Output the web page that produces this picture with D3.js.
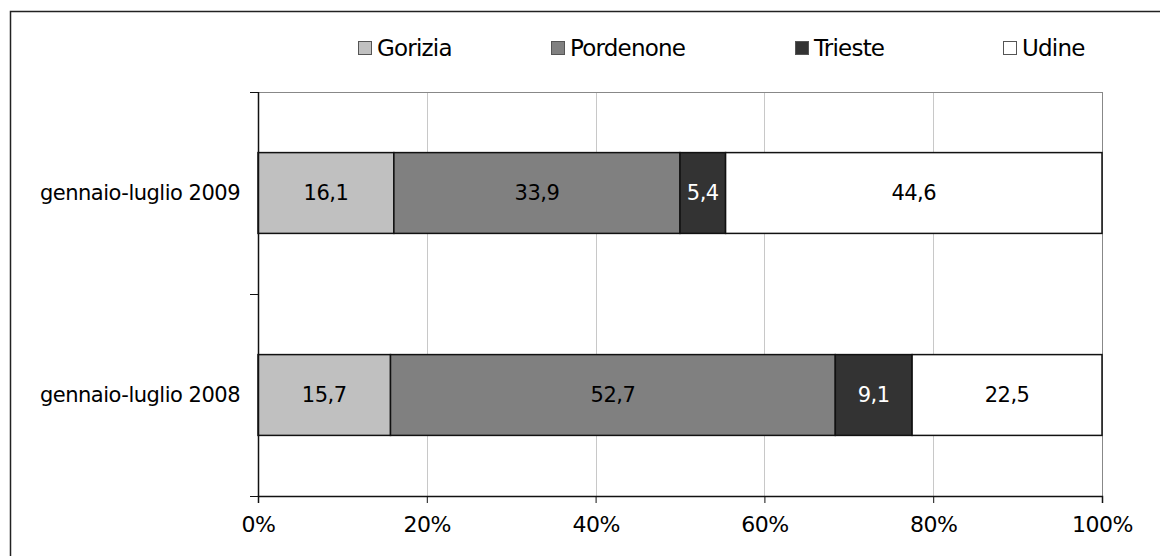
<!DOCTYPE html>
<html>
<head>
<meta charset="utf-8">
<script src="https://cdn.jsdelivr.net/npm/d3@7"></script>
<style>
  body { margin: 0; background: #fff; }
  text { font-family: "DejaVu Sans", sans-serif; }
</style>
</head>
<body>
<script>
// data
const periods = ['gennaio-luglio 2009', 'gennaio-luglio 2008'];
const provinces = ['Gorizia', 'Pordenone', 'Trieste', 'Udine'];
const gorizia = [16.1, 15.7];
const pordenone = [33.9, 52.7];
const trieste = [5.4, 9.1];
const udine = [44.6, 22.5];
const xTicks = [0, 20, 40, 60, 80, 100];

const colors = ['#c0c0c0', '#808080', '#333333', '#ffffff'];
const labelColors = ['#000', '#000', '#fff', '#000'];

const margin = {top: 92, left: 258, right: 58, bottom: 60};
const W = 1160, H = 556;
const width = W - margin.left - margin.right;
const height = H - margin.top - margin.bottom;

const svg = d3.select('body').append('svg')
  .attr('width', W).attr('height', H);

// outer chart frame (cut off at right/bottom like the reference)
svg.append('rect')
  .attr('x', 10.5).attr('y', 11.5)
  .attr('width', W + 10).attr('height', H + 10)
  .attr('fill', 'none').attr('stroke', '#222').attr('stroke-width', 1.5);

const g = svg.append('g').attr('transform', `translate(${margin.left},${margin.top})`);

const xscale = d3.scaleLinear().domain([0, 100]).range([0, width]);
const yscale = d3.scaleBand().domain(periods).range([0, height])
  .paddingInner(0.6).paddingOuter(0.3);

// gridlines
g.selectAll('.grid').data(xTicks.slice(1)).join('line')
  .attr('class', 'grid')
  .attr('x1', d => Math.round(xscale(d)) + 0.5).attr('x2', d => Math.round(xscale(d)) + 0.5)
  .attr('y1', 0).attr('y2', height)
  .attr('stroke', d => d === 100 ? '#888' : '#c8c8c8').attr('stroke-width', 1);

// top border of plot area
g.append('line')
  .attr('x1', -8).attr('x2', width).attr('y1', 0.5).attr('y2', 0.5)
  .attr('stroke', '#888');

// stacked data
const rows = periods.map((p, i) => {
  const vals = [gorizia[i], pordenone[i], trieste[i], udine[i]];
  let x0 = 0;
  return vals.map((v, k) => {
    const seg = {period: p, k, v, x0, x1: x0 + v};
    x0 += v;
    return seg;
  });
}).flat();

g.selectAll('rect.seg').data(rows).join('rect')
  .attr('class', 'seg')
  .attr('x', d => xscale(d.x0))
  .attr('width', d => xscale(d.x1) - xscale(d.x0))
  .attr('y', d => yscale(d.period))
  .attr('height', yscale.bandwidth())
  .attr('fill', d => colors[d.k])
  .attr('stroke', '#111').attr('stroke-width', 1.5);

g.selectAll('text.val').data(rows).join('text')
  .attr('class', 'val')
  .attr('x', d => xscale((d.x0 + d.x1) / 2))
  .attr('y', d => yscale(d.period) + yscale.bandwidth() / 2)
  .attr('dy', '0.35em')
  .attr('text-anchor', 'middle')
  .attr('font-size', 21)
  .attr('letter-spacing', -0.5)
  .attr('fill', d => labelColors[d.k])
  .text(d => d.v.toFixed(1).replace('.', ','));

// axes
const xaxis = d3.axisBottom(xscale).tickValues(xTicks).tickSize(7).tickPadding(13)
  .tickFormat(d => d + '%');
const gx = g.append('g').attr('transform', `translate(0,${height})`).call(xaxis);
gx.select('.domain').attr('stroke', '#111').attr('stroke-width', 1.5);
gx.selectAll('.tick line').attr('stroke', '#111');
gx.selectAll('.tick text').attr('font-size', 22).attr('fill', '#000')
  .attr('letter-spacing', -0.5)
  .attr('font-family', '"DejaVu Sans", sans-serif');

// y axis line with ticks at category boundaries
g.append('line').attr('x1', 0.5).attr('x2', 0.5).attr('y1', 0).attr('y2', height)
  .attr('stroke', '#111').attr('stroke-width', 1.5);
const bounds = [0, height / 2, height];
g.selectAll('.ytick').data(bounds).join('line')
  .attr('class', 'ytick')
  .attr('x1', -8).attr('x2', 0)
  .attr('y1', d => d + 0.5).attr('y2', d => d + 0.5)
  .attr('stroke', '#111');

g.selectAll('.ylab').data(periods).join('text')
  .attr('class', 'ylab')
  .attr('x', -18)
  .attr('y', d => yscale(d) + yscale.bandwidth() / 2)
  .attr('dy', '0.35em')
  .attr('text-anchor', 'end')
  .attr('font-size', 21)
  .attr('letter-spacing', -0.5)
  .text(d => d);

// legend
const legendX = [358, 551, 795, 1003];
const lg = svg.append('g');
provinces.forEach((p, i) => {
  lg.append('rect')
    .attr('x', legendX[i] + 0.5).attr('y', 41.5)
    .attr('width', 13).attr('height', 13)
    .attr('fill', colors[i]).attr('stroke', '#555');
  lg.append('text')
    .attr('x', legendX[i] + 19).attr('y', 48)
    .attr('dy', '0.35em')
    .attr('font-size', 23)
    .attr('letter-spacing', -0.8)
    .text(p);
});
</script>
</body>
</html>
